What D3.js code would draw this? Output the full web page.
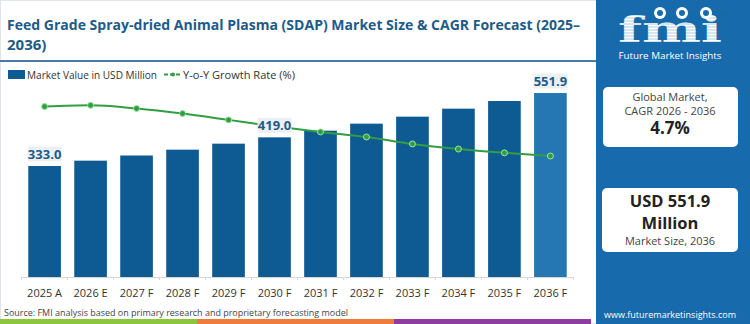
<!DOCTYPE html>
<html>
<head>
<meta charset="utf-8">
<script src="https://cdn.jsdelivr.net/npm/d3@7/dist/d3.min.js"></script>
<style>
  body { margin: 0; background: #fff; }
  svg { display: block; font-family: "Open Sans", "Noto Sans", sans-serif; }
</style>
</head>
<body>
<div id="chart"></div>
<script>
// Feed Grade SDAP market size & CAGR forecast

// data
const years = ['2025 A', '2026 E', '2027 F', '2028 F', '2029 F', '2030 F',
  '2031 F', '2032 F', '2033 F', '2034 F', '2035 F', '2036 F'];
const marketValues = [333.0, 349.0, 364.5, 382.0, 400.0, 419.0, 439.0, 460.0, 481.0, 505.0, 528.0, 551.9];
const growthRates = [4.98, 5.0, 4.95, 4.87, 4.77, 4.67, 4.58, 4.5, 4.39, 4.31, 4.25, 4.2];
const labelledYears = ['2025 A', '2030 F', '2036 F'];
const titleLines = ['Feed Grade Spray-dried Animal Plasma (SDAP) Market Size & CAGR Forecast (2025–', '2036)'];
const legendLabels = ['Market Value in USD Million', 'Y-o-Y Growth Rate (%)'];
const sourceText = 'Source: FMI analysis based on primary research and proprietary forecasting model';
const cagrLines = ['Global Market,', 'CAGR 2026 - 2036', '4.7%'];
const sizeLines = ['USD 551.9', 'Million', 'Market Size, 2036'];

const W = 750;
const H = 324;
const baseline = 277;

const blue = '#0e5a93';
const lastBlue = '#2577b3';
const panelBlue = '#176aab';
const titleBlue = '#1d5b8a';
const green = '#2f9e44';

const svg = d3.select('#chart').append('svg')
  .attr('width', W)
  .attr('height', H);

// frame of the chart area
svg.append('rect')
  .attr('x', 0.5).attr('y', 0.5)
  .attr('width', 596).attr('height', H - 1)
  .attr('fill', '#fff')
  .attr('stroke', '#dfe5ea');

// title
svg.append('g').selectAll('text')
  .data(titleLines)
  .enter()
  .append('text')
  .attr('x', 7)
  .attr('y', (d, i) => 30 + i * 20)
  .attr('fill', titleBlue)
  .attr('font-size', 15)
  .attr('font-weight', 700)
  .attr('textLength', (d, i) => (i === 0 ? 573 : null))
  .attr('lengthAdjust', 'spacingAndGlyphs')
  .text(d => d);

// separator under the title
svg.append('line')
  .attr('x1', 0).attr('x2', 596)
  .attr('y1', 61).attr('y2', 61)
  .attr('stroke', '#4a7aa3')
  .attr('stroke-width', 2);

// scales
const x = d3.scaleBand()
  .domain(years)
  .range([21.6, 573.4])
  .paddingInner(0.29)
  .paddingOuter(0.145);

const y = d3.scaleLinear()
  .domain([0, 600])
  .range([baseline, baseline - 200]);

const g = d3.scaleLinear()
  .domain([4.2, 5.0])
  .range([156, 105.3]);

// legend
const legend = svg.append('g').attr('font-size', 11.5).attr('fill', '#333');
legend.append('rect')
  .attr('x', 8).attr('y', 70)
  .attr('width', 17).attr('height', 9)
  .attr('fill', blue);
legend.append('text')
  .attr('x', 27).attr('y', 74.5)
  .attr('dy', '0.35em')
  .attr('textLength', 130)
  .attr('lengthAdjust', 'spacingAndGlyphs')
  .text(legendLabels[0]);
legend.append('line')
  .attr('x1', 164).attr('x2', 182)
  .attr('y1', 74.5).attr('y2', 74.5)
  .attr('stroke', green)
  .attr('stroke-width', 2)
  .attr('stroke-dasharray', '4,2');
legend.append('circle')
  .attr('cx', 173).attr('cy', 74.5)
  .attr('r', 2)
  .attr('fill', green);
legend.append('text')
  .attr('x', 183).attr('y', 74.5)
  .attr('dy', '0.35em')
  .attr('textLength', 112)
  .attr('lengthAdjust', 'spacingAndGlyphs')
  .text(legendLabels[1]);

// bars
svg.append('g').selectAll('rect')
  .data(years)
  .enter()
  .append('rect')
  .attr('x', d => x(d))
  .attr('y', (d, i) => y(marketValues[i]))
  .attr('width', x.bandwidth())
  .attr('height', (d, i) => y(0) - y(marketValues[i]))
  .attr('fill', (d, i) => (i === years.length - 1 ? lastBlue : blue));

// x axis
const axis = svg.append('g')
  .attr('transform', `translate(0, ${baseline})`)
  .call(d3.axisBottom(x).tickSize(0).tickPadding(12).tickSizeOuter(0));
axis.select('.domain').attr('stroke', '#d6d6d6');
axis.selectAll('text')
  .attr('font-size', 11)
  .attr('fill', '#333')
  .attr('font-family', '"Open Sans", sans-serif');

// small ticks between the bars
const gap = x.step() * x.paddingInner() / 2;
const tickX = (d, i) => (i < years.length ? x(d) - gap : x(years[years.length - 1]) + x.bandwidth() + gap);
svg.append('g').selectAll('line')
  .data(years.concat(['end']))
  .enter()
  .append('line')
  .attr('x1', tickX)
  .attr('x2', tickX)
  .attr('y1', baseline)
  .attr('y2', baseline + 3)
  .attr('stroke', '#d6d6d6');

// growth line
const line = d3.line()
  .x((d, i) => x(years[i]) + x.bandwidth() / 2)
  .y(d => g(d))
  .curve(d3.curveMonotoneX);

svg.append('path')
  .datum(growthRates)
  .attr('d', line)
  .attr('fill', 'none')
  .attr('stroke', green)
  .attr('stroke-width', 2);

svg.append('g').selectAll('circle')
  .data(growthRates)
  .enter()
  .append('circle')
  .attr('cx', (d, i) => x(years[i]) + x.bandwidth() / 2)
  .attr('cy', d => g(d))
  .attr('r', 3)
  .attr('fill', green)
  .attr('stroke', '#9fe3a0')
  .attr('stroke-width', 1);

// value labels
const labels = svg.append('g').selectAll('g')
  .data(labelledYears)
  .enter()
  .append('g')
  .attr('transform', d => `translate(${x(d) + x.bandwidth() / 2}, ${y(marketValues[years.indexOf(d)]) - 12})`);
labels.append('rect')
  .attr('x', -17).attr('y', -7.5)
  .attr('width', 34).attr('height', 15)
  .attr('fill', '#edf0f3');
labels.append('text')
  .attr('text-anchor', 'middle')
  .attr('dy', '0.36em')
  .attr('font-size', 13)
  .attr('font-weight', 700)
  .attr('fill', titleBlue)
  .text(d => marketValues[years.indexOf(d)].toFixed(1));

// source
svg.append('text')
  .attr('x', 4).attr('y', 313)
  .attr('dy', '0.35em')
  .attr('font-size', 9.5)
  .attr('fill', '#444')
  .attr('textLength', 344)
  .attr('lengthAdjust', 'spacingAndGlyphs')
  .text(sourceText);

// bottom strip
const stripColors = ['#8cc63f', '#ef7b3c', '#8d3d9f'];
const strip = d3.scaleBand().domain(stripColors).range([0, 591]);
svg.append('g').selectAll('rect')
  .data(stripColors)
  .enter()
  .append('rect')
  .attr('x', d => strip(d))
  .attr('y', 319)
  .attr('width', strip.bandwidth())
  .attr('height', 5)
  .attr('fill', d => d);

// right panel
svg.append('rect')
  .attr('x', 596).attr('y', 0)
  .attr('width', W - 596).attr('height', H)
  .attr('fill', panelBlue);

// logo
const logo = svg.append('g');
logo.append('text')
  .attr('x', 670).attr('y', 42)
  .attr('text-anchor', 'middle')
  .attr('font-family', '"DejaVu Serif", serif')
  .attr('font-weight', 700)
  .attr('font-size', 35)
  .attr('fill', '#fff')
  .attr('textLength', 104)
  .attr('lengthAdjust', 'spacingAndGlyphs')
  .text('fmi');
logo.append('g').selectAll('line')
  .data(d3.range(10))
  .enter()
  .append('line')
  .attr('x1', 612).attr('x2', 728)
  .attr('y1', d => 15 + d * 3)
  .attr('y2', d => 15 + d * 3)
  .attr('stroke', panelBlue)
  .attr('stroke-opacity', 0.45)
  .attr('stroke-width', 0.8);
logo.append('g').selectAll('circle')
  .data([660, 682, 706])
  .enter()
  .append('circle')
  .attr('cx', d => d).attr('cy', 13)
  .attr('r', 6)
  .attr('fill', '#fff');
logo.append('g').selectAll('circle')
  .data([660, 682, 706])
  .enter()
  .append('circle')
  .attr('cx', d => d).attr('cy', 13)
  .attr('r', 3)
  .attr('fill', panelBlue);
logo.append('text')
  .attr('x', 670).attr('y', 56)
  .attr('dy', '0.35em')
  .attr('text-anchor', 'middle')
  .attr('font-size', 9.5)
  .attr('fill', '#fff')
  .attr('textLength', 103)
  .attr('lengthAdjust', 'spacingAndGlyphs')
  .text('Future Market Insights');

// CAGR card
svg.append('rect')
  .attr('x', 603).attr('y', 87)
  .attr('width', 135).attr('height', 60)
  .attr('rx', 5)
  .attr('fill', '#fff');
svg.append('g').selectAll('text')
  .data(cagrLines)
  .enter()
  .append('text')
  .attr('x', 670)
  .attr('y', (d, i) => [97, 111, 128][i])
  .attr('dy', '0.35em')
  .attr('text-anchor', 'middle')
  .attr('font-size', (d, i) => (i === 2 ? 17 : 11))
  .attr('font-weight', (d, i) => (i === 2 ? 700 : 400))
  .attr('fill', (d, i) => (i === 2 ? '#222' : '#444'))
  .text(d => d);

// market size card
svg.append('rect')
  .attr('x', 602).attr('y', 188)
  .attr('width', 136).attr('height', 64)
  .attr('rx', 5)
  .attr('fill', '#fff');
svg.append('g').selectAll('text')
  .data(sizeLines)
  .enter()
  .append('text')
  .attr('x', 670)
  .attr('y', (d, i) => [201, 223, 241.5][i])
  .attr('dy', '0.35em')
  .attr('text-anchor', 'middle')
  .attr('font-size', (d, i) => (i === 2 ? 11 : 16.5))
  .attr('font-weight', (d, i) => (i === 2 ? 400 : 700))
  .attr('fill', (d, i) => (i === 2 ? '#444' : '#222'))
  .text(d => d);

// website
svg.append('text')
  .attr('x', 670).attr('y', 315)
  .attr('dy', '0.35em')
  .attr('text-anchor', 'middle')
  .attr('font-size', 9)
  .attr('fill', '#fff')
  .text('www.futuremarketinsights.com');
</script>
</body>
</html>
